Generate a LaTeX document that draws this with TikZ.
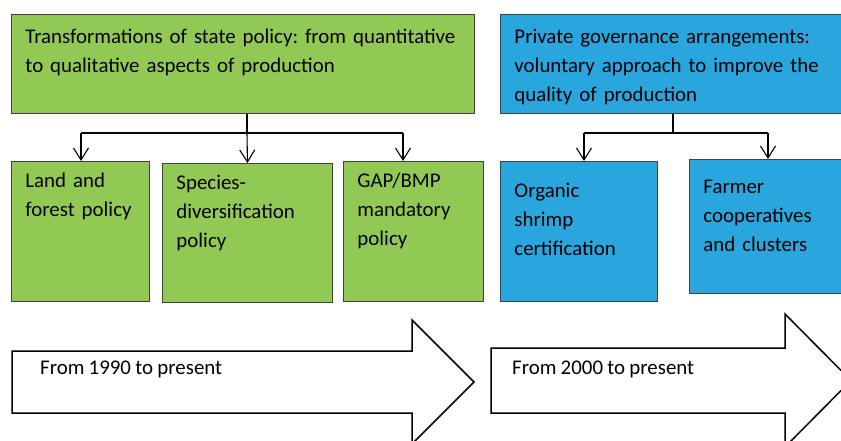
\documentclass[tikz,border=0pt]{standalone}
\usepackage{fontspec}
\setmainfont{Carlito}[WordSpace=0.9]
\frenchspacing
\usetikzlibrary{arrows.meta}
\definecolor{stategreen}{RGB}{146,201,85}
\definecolor{privateblue}{RGB}{41,166,222}
\definecolor{boxline}{RGB}{64,64,64}
\tikzstyle{box} = [rectangle, draw=boxline, line width=0.9pt, anchor=north west, inner xsep=14pt, inner ysep=0pt, align=left]
\tikzstyle{statebox} = [box, fill=stategreen]
\tikzstyle{privatebox} = [box, fill=privateblue]
\tikzstyle{bar} = [line width=1.8pt]
\tikzstyle{arrow} = [line width=1.1pt,->,>={Straight Barb[length=12pt,width=15pt]}]
\tikzstyle{bigarrow} = [draw, line width=1.5pt, fill=white, line join=miter]
\tikzstyle{period} = [anchor=base west, inner sep=0pt]

\begin{document}
\begin{tikzpicture}[x=1pt, y=-1pt, font=\fontsize{20.9}{29}\selectfont]
            \useasboundingbox (0,0) rectangle (841,440);
            \node [statebox, text width=435pt, text height=29.5pt, text depth=69.5pt] at (11,14) (gtop) {Transformations of state policy: from quantitative\\to qualitative aspects of production};
            \node [privatebox, text width=322pt, text height=28.7pt, text depth=70.3pt] at (500,14) (btop) {Private governance arrangements:\\voluntary approach to improve the\\quality of production};
            \node [statebox, text width=110pt, text height=25.7pt, text depth=114.3pt] at (11,161) (land) {Land and\\forest policy};
            \node [statebox, text width=142pt, text height=26.3pt, text depth=112.7pt] at (162,163) (species) {Species-\\diversification\\policy};
            \node [statebox, text width=112pt, text height=25.7pt, text depth=114.3pt] at (343,161) (gap) {GAP/BMP\\mandatory\\policy};
            \node [privatebox, text width=129pt, text height=35.7pt, text depth=104.3pt] at (500,161) (organic) {Organic\\shrimp\\certification};
            \node [privatebox, text width=133pt, text height=34.3pt, text depth=99.7pt] at (689,159) (farmer) {Farmer\\cooperatives\\and clusters};
            \coordinate (gbar) at (247,133);
            \coordinate (gleft) at (81,133);
            \coordinate (gright) at (403,133);
            \coordinate (bbar) at (673,133);
            \coordinate (bleft) at (584,133);
            \coordinate (bright) at (768,133);
            \draw [line width=1.3pt] (gtop.south -| gbar) -- (gbar);
            \draw [bar] (gleft) -- (gright);
            \draw [arrow] (gleft) -- (gleft |- land.north);
            \draw [arrow] (gbar) -- (species.north);
            \draw [arrow] (gright) -- (gright |- gap.north);
            \draw [bar] (btop.south -| bbar) -- (bbar);
            \draw [bar] (bleft) -- (bright);
            \draw [arrow] (bleft) -- (bleft |- organic.north);
            \draw [arrow] (bright) -- (bright |- farmer.north);
            \draw [bigarrow] (12,351) -- (412,351) -- (412,320) -- (474,382) -- (412,444) -- (412,413) -- (12,413) -- cycle;
            \node [period] at (40,374) (from1990) {From 1990 to present};
            \draw [bigarrow] (491,348) -- (785,348) -- (785,314) -- (851,380.5) -- (785,447) -- (785,413) -- (491,413) -- cycle;
            \node [period] at (512,374) (from2000) {From 2000 to present};
            \end{tikzpicture}
\end{document}
